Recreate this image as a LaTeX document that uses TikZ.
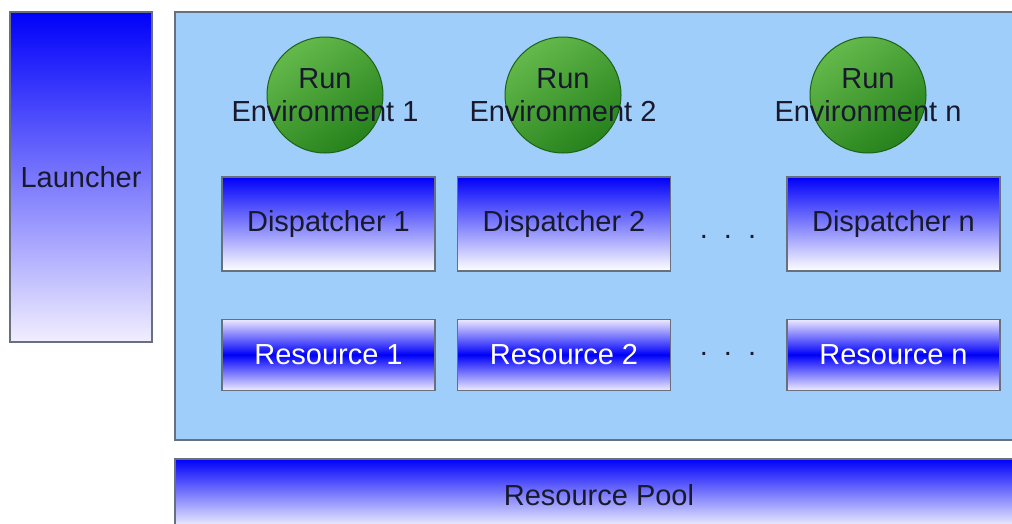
\documentclass[tikz,border=0pt]{standalone}
\usepackage{fontspec}
\setmainfont{Liberation Sans}
\usepackage{tikz}
\usetikzlibrary{
	positioning,
	shadings
}
\definecolor{PoolBlue}{RGB}{0,0,250}
\definecolor{PaleBlue}{RGB}{238,234,255}
\definecolor{SkyBlue}{RGB}{160,206,250}
\definecolor{EnvGreen}{RGB}{38,130,28}
\definecolor{EnvLight}{RGB}{100,185,75}
\definecolor{EdgeGray}{RGB}{105,112,125}
\definecolor{TextDark}{RGB}{25,25,45}

\begin{document}
\begin{tikzpicture}[x=1pt, y=-1pt,
	font=\fontsize{29}{33}\selectfont,
	box/.style={rectangle, draw=EdgeGray, line width=1.2pt, inner sep=0pt},
	dispbox/.style={box, top color=PoolBlue, bottom color=white, minimum width=213pt, minimum height=94pt, text=TextDark},
	resbox/.style={box, top color=PaleBlue, bottom color=PaleBlue, middle color=PoolBlue, minimum width=213pt, minimum height=71pt, text=white},
	runenv/.style={circle, draw=EnvGreen!75!black, line width=1pt, top color=EnvLight, bottom color=EnvGreen, shading angle=35, minimum size=116pt, inner sep=0pt},
	envtext/.style={align=center, text=TextDark, inner sep=0pt},
	dots/.style={text=TextDark, inner sep=0pt}]
	
	% 画布
	\useasboundingbox (0,0) rectangle (1012,523);
	\clip (0,0) rectangle (1012,523);
	
	% 启动器
	\node[box, top color=PoolBlue, bottom color=PaleBlue!80!white, minimum width=142pt, minimum height=330pt, text=TextDark] (launcher) at (81,177) {Launcher};
	
	% 主区域
	\node[box, fill=SkyBlue, minimum width=848pt, minimum height=428pt] (main) at (599,226) {};
	
	% 资源池
	\node[box, top color=PoolBlue, bottom color=white, minimum width=848pt, minimum height=72pt, text=TextDark] (pool) at (599,495) {Resource Pool};
	
	% 运行环境
	\node[runenv] (env1) at (325,95) {};
	\node[runenv] (env2) at (563,95) {};
	\node[runenv] (envn) at (868,95) {};
	\node[envtext] at (env1) {Run\\Environment 1};
	\node[envtext] at (env2) {Run\\Environment 2};
	\node[envtext] at (envn) {Run\\Environment n};
	
	% 调度器
	\node[dispbox] (disp1) at (328.5,224) {Dispatcher 1};
	\node[dispbox] (disp2) at (564,224) {Dispatcher 2};
	\node[dispbox] (dispn) at (893.5,224) {Dispatcher n};
	
	% 资源
	\node[resbox, below=47pt of disp1] (res1) {Resource 1};
	\node[resbox, below=47pt of disp2] (res2) {Resource 2};
	\node[resbox, below=47pt of dispn] (resn) {Resource n};
	
	% 省略号
	\node[dots] (dotsd) at (728,237) {.\ \ .\ \ .};
	\node[dots] (dotsr) at (728,354) {.\ \ .\ \ .};
\end{tikzpicture}
\end{document}
